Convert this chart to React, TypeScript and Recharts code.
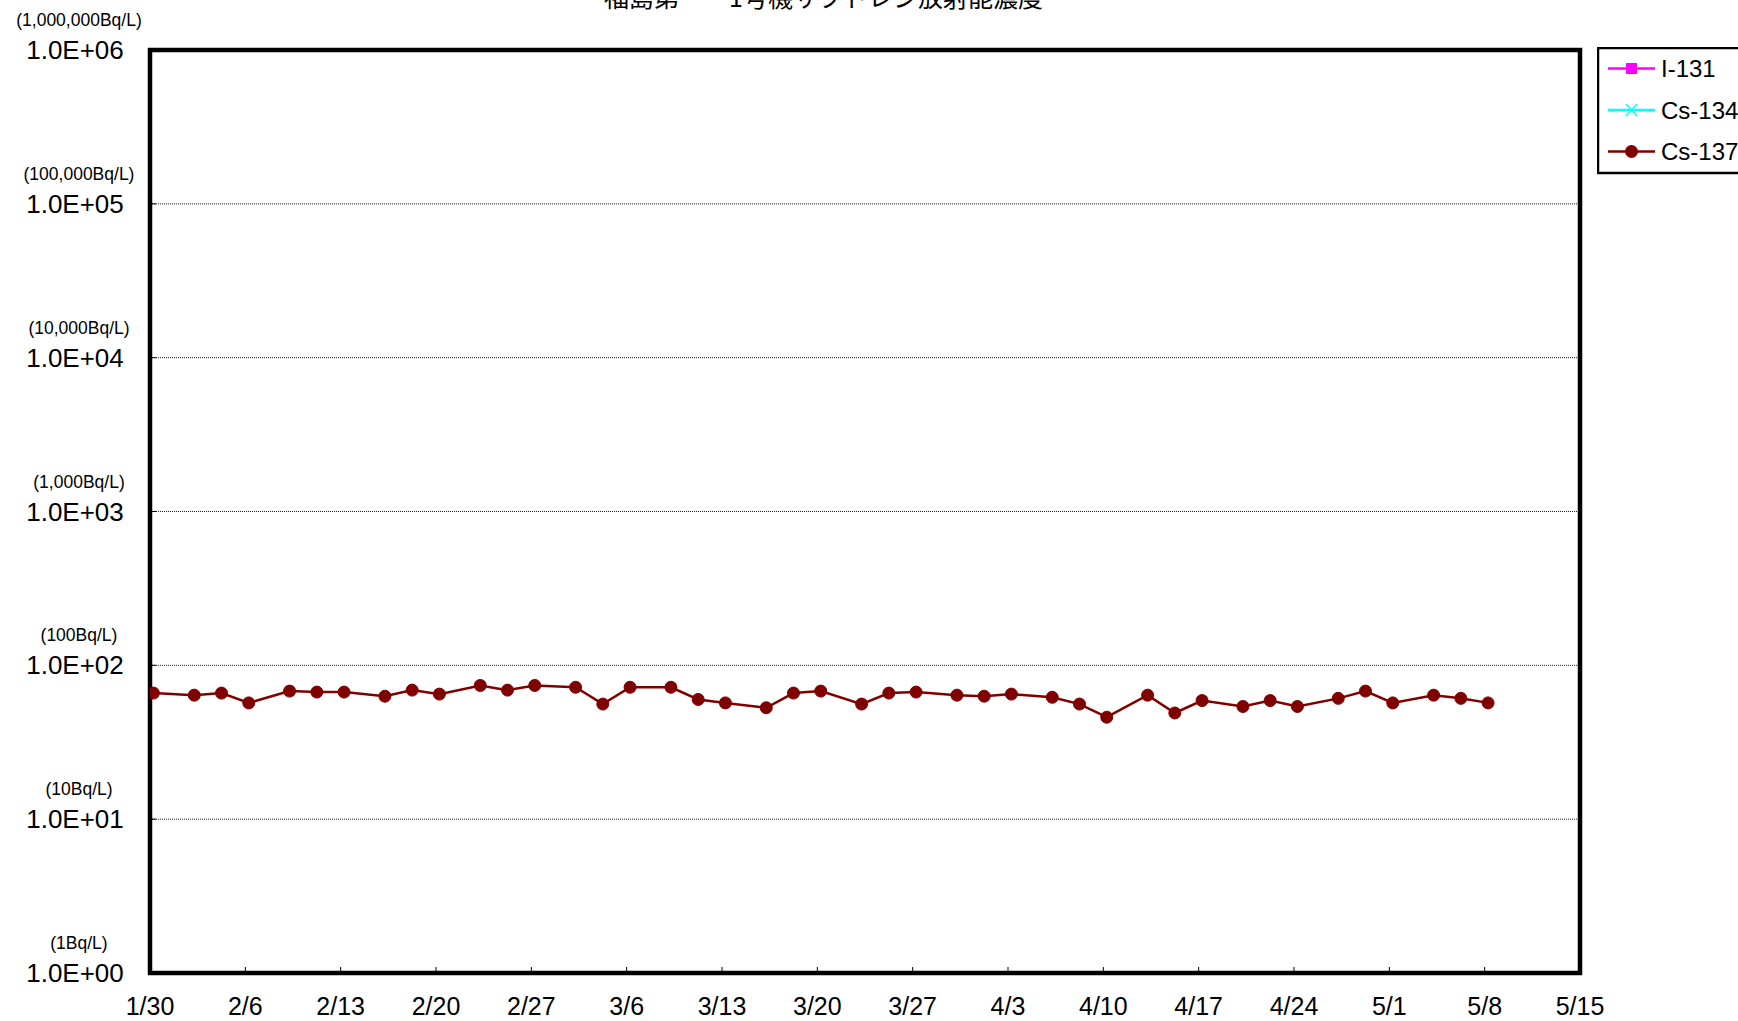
import { LineChart, Line, XAxis, YAxis, CartesianGrid, ReferenceArea } from "recharts";

// days from 1/30 (2015), weekly ticks
const dateTicks = [0, 7, 14, 21, 28, 35, 42, 49, 56, 63, 70, 77, 84, 91, 98, 105];
const dateLabels = [
  "1/30", "2/6", "2/13", "2/20", "2/27", "3/6", "3/13", "3/20",
  "3/27", "4/3", "4/10", "4/17", "4/24", "5/1", "5/8", "5/15",
];

const yTicks = [1, 10, 100, 1000, 10000, 100000, 1000000];
const yLabels = ["1.0E+00", "1.0E+01", "1.0E+02", "1.0E+03", "1.0E+04", "1.0E+05", "1.0E+06"];
const yUnitLabels = [
  "(1Bq/L)", "(10Bq/L)", "(100Bq/L)", "(1,000Bq/L)",
  "(10,000Bq/L)", "(100,000Bq/L)", "(1,000,000Bq/L)",
];

// sampling days (offset from 1/30), samples taken in the morning
const sampleDays = [
  0, 3, 5, 7, 10, 12, 14, 17, 19, 21, 24, 26, 28, 31, 33, 35, 38, 40, 42, 45, 47, 49,
  52, 54, 56, 59, 61, 63, 66, 68, 70, 73, 75, 77, 80, 82, 84, 87, 89, 91, 94, 96, 98,
];
const sampleTime = 0.25;

const cs137 = [
  66, 64, 66, 57, 68, 67, 67, 63, 69, 65, 74, 69, 74, 72, 56, 72, 72, 60, 57, 53, 66, 68,
  56, 66, 67, 64, 63, 65, 62, 56, 46, 64, 49, 59, 54, 59, 54, 61, 68, 57, 64, 61, 57,
];
// I-131 and Cs-134 were below detection limit: nothing plotted
const i131: (number | null)[] = [];
const cs134: (number | null)[] = [];

const series = [
  { key: "i131", name: "I-131", color: "#FF00FF", marker: "square" },
  { key: "cs134", name: "Cs-134", color: "#00FFFF", marker: "x" },
  { key: "cs137", name: "Cs-137", color: "#800000", marker: "circle" },
];

const data = sampleDays.map((d, i) => ({
  day: d + sampleTime,
  i131: i131[i] ?? null,
  cs134: cs134[i] ?? null,
  cs137: cs137[i],
}));

const FONT = "'Liberation Sans', Arial, sans-serif";

function DateTick({ x, y, payload }: any) {
  const idx = dateTicks.indexOf(payload.value);
  return (
    <g>
      <line x1={x} y1={y} x2={x} y2={y - 6} stroke="#000" strokeWidth={1} />
      <text x={x} y={y + 42} textAnchor="middle" fontSize={25} fontFamily={FONT} fill="#000">
        {dateLabels[idx]}
      </text>
    </g>
  );
}

function ValueTick({ x, y, payload }: any) {
  const idx = yTicks.indexOf(payload.value);
  return (
    <g>
      <line x1={x} y1={y} x2={x + 6} y2={y} stroke="#000" strokeWidth={1} />
      <text x={x - 71} y={y - 24} textAnchor="middle" fontSize={17.5} fontFamily={FONT} fill="#000">
        {yUnitLabels[idx]}
      </text>
      <text x={x - 75} y={y + 9} textAnchor="middle" fontSize={26} fontFamily={FONT} fill="#000">
        {yLabels[idx]}
      </text>
    </g>
  );
}

function Marker({ type, color }: { type: string; color: string }) {
  if (type === "square") return <rect x={29} y={-5.5} width={11} height={11} fill={color} />;
  if (type === "x")
    return (
      <g stroke={color} strokeWidth={1.5}>
        <line x1={29} y1={-6} x2={40} y2={6} />
        <line x1={29} y1={6} x2={40} y2={-6} />
      </g>
    );
  return <circle cx={34.5} cy={0} r={6.5} fill={color} />;
}

function ChartLegend() {
  return (
    <svg width={160} height={128} style={{ position: "absolute", left: 1597, top: 47 }}>
      <rect x={1} y={1} width={200} height={125} fill="#fff" stroke="#000" strokeWidth={2.5} />
      {series.map((s, i) => (
        <g key={s.key} transform={`translate(0, ${21.5 + i * 41.5})`}>
          <line x1={11} y1={0} x2={58} y2={0} stroke={s.color} strokeWidth={2.5} />
          <Marker type={s.marker} color={s.color} />
          <text x={64} y={8.5} fontSize={24} fontFamily={FONT} fill="#000">
            {s.name}
          </text>
        </g>
      ))}
    </svg>
  );
}

export default function App() {
  return (
    <div
      style={{
        position: "absolute",
        left: 0,
        top: 0,
        width: 1738,
        height: 1021,
        overflow: "hidden",
        background: "#fff",
      }}
    >
      <div
        style={{
          position: "absolute",
          left: 0,
          top: -16,
          width: 1647,
          textAlign: "center",
          fontFamily: "'Noto Sans CJK JP', sans-serif",
          fontSize: 25,
          lineHeight: "25px",
          whiteSpace: "nowrap",
        }}
      >
        福島第一　1号機サブドレン放射能濃度
      </div>
      <LineChart
        width={1738}
        height={1021}
        data={data}
        margin={{ top: 50, right: 158, left: 0, bottom: 0 }}
      >
        <CartesianGrid
          horizontal
          vertical={false}
          stroke="#222"
          strokeDasharray="1 1"
        />
        <XAxis
          dataKey="day"
          type="number"
          domain={[0, 105]}
          ticks={dateTicks}
          interval={0}
          height={48}
          tickSize={0}
          tickMargin={0}
          tickLine={false}
          tick={<DateTick />}
          axisLine={false}
          allowDataOverflow
        />
        <YAxis
          type="number"
          scale="log"
          domain={[1, 1000000]}
          ticks={yTicks}
          interval={0}
          width={150}
          tickSize={0}
          tickMargin={0}
          tickLine={false}
          tick={<ValueTick />}
          axisLine={false}
          allowDataOverflow
        />
        <ReferenceArea
          x1={0}
          x2={105}
          y1={1}
          y2={1000000}
          fill="none"
          fillOpacity={0}
          stroke="#000"
          strokeWidth={4.5}
          ifOverflow="visible"
        />
        {series.map((s) => (
          <Line
            key={s.key}
            dataKey={s.key}
            name={s.name}
            type="linear"
            stroke={s.color}
            strokeWidth={2.5}
            dot={{ r: 6, fill: s.color, stroke: s.color, strokeWidth: 1 }}
            isAnimationActive={false}
            connectNulls={false}
          />
        ))}
      </LineChart>
      <ChartLegend />
    </div>
  );
}
